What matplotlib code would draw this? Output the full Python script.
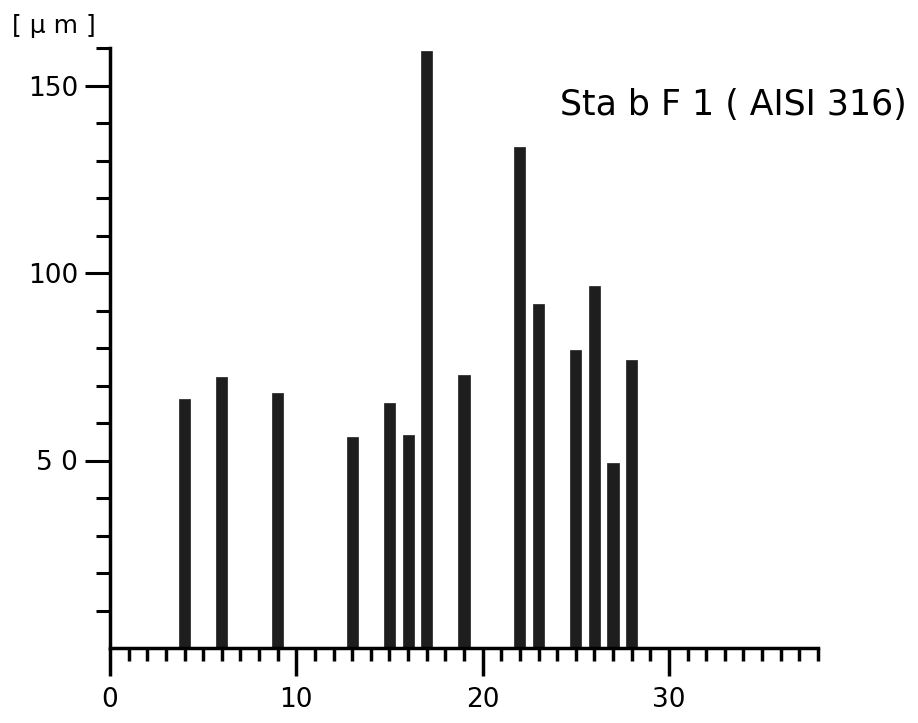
import matplotlib
matplotlib.use("Agg")
import matplotlib.pyplot as plt
import numpy as np

# bar positions (x) and heights in micrometres
pos = [4, 6, 9, 13, 15, 16, 17, 19, 22, 23, 25, 26, 27, 28]
depth = [66.3, 72.3, 68.0, 56.3, 65.3, 56.8, 159.2, 72.8, 133.6, 91.7, 79.5, 96.5, 49.3, 76.8]

xticks_major = [0, 10, 20, 30]
yticks_major = [50, 100, 150]
ylabels = ["5 0", "100", "150"]
title = "Sta b F 1 ( AISI 316)"
unit = "[ µ m ]"

plt.rcParams['font.family'] = ['DejaVu Sans']

fig = plt.figure(figsize=(9.18, 7.23), dpi=100)
ax = fig.add_axes([110/918, 1-648/723, 708/918, 600/723])

ax.bar(pos, depth, width=0.6, color='#1e1e1e', edgecolor='#1e1e1e', linewidth=0.5)

ax.set_xlim(0, 38)
ax.set_ylim(0, 160)

for s in ['top', 'right']:
    ax.spines[s].set_visible(False)
for s in ['left', 'bottom']:
    ax.spines[s].set_linewidth(2.5)
    ax.spines[s].set_color('black')

ax.set_xticks(xticks_major)
ax.set_xticklabels([str(v) for v in xticks_major])
ax.set_xticks(np.arange(1, 39), minor=True)
ax.set_yticks(yticks_major)
ax.set_yticklabels(ylabels)
ax.set_yticks(np.arange(10, 161, 10), minor=True)

ax.tick_params(axis='x', which='major', length=20, width=2.5, pad=8, labelsize=19)
ax.tick_params(axis='x', which='minor', length=9, width=2.5)
ax.tick_params(axis='y', which='major', length=18, width=2.2, pad=5, labelsize=19)
ax.tick_params(axis='y', which='minor', length=10, width=2.2)

fig.text(560/918, 1-115/723, title, fontsize=25, va='baseline', ha='left')
fig.text(12/918, 1-33/723, unit, fontsize=18, va='baseline', ha='left')

fig.savefig("out.png", dpi=100)
